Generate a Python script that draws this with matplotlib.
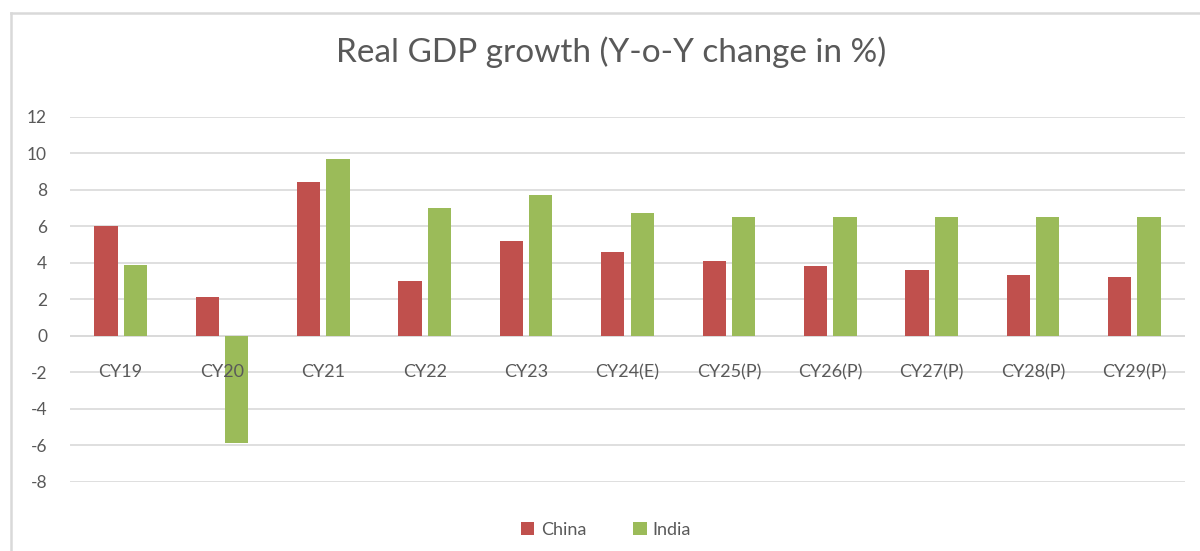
import matplotlib
matplotlib.use("Agg")
import matplotlib.pyplot as plt
import numpy as np
from matplotlib.lines import Line2D

plt.rcParams["font.family"] = ["Lato", "DejaVu Sans"]

# values
categories = ["CY19", "CY20", "CY21", "CY22", "CY23", "CY24(E)", "CY25(P)",
              "CY26(P)", "CY27(P)", "CY28(P)", "CY29(P)"]
china = [6.0, 2.1, 8.4, 3.0, 5.2, 4.6, 4.1, 3.8, 3.6, 3.3, 3.2]
india = [3.9, -5.9, 9.7, 7.0, 7.7, 6.7, 6.5, 6.5, 6.5, 6.5, 6.5]
yticks = list(range(-8, 13, 2))

RED = "#C0504D"
GREEN = "#9BBB59"
TEXT = "#595959"
GRID = "#D9D9D9"

fig = plt.figure(figsize=(12, 5.51), dpi=100)
# light chart-area border (top and left edges only visible in the crop)
top = 1 - 13 / 551
left = 11 / 1200
fig.add_artist(Line2D([left, 1.0], [top, top], transform=fig.transFigure,
                      color="#D9D9D9", linewidth=1.8))
fig.add_artist(Line2D([left, left], [0, top], transform=fig.transFigure,
                      color="#D9D9D9", linewidth=1.8))

ax = fig.add_axes((70 / 1200, 1 - 481.7 / 551, 1115 / 1200, 365 / 551))
x = np.arange(len(categories))
w = 0.23
ax.bar(x - 0.145, china, w, color=RED, label="China", zorder=3)
ax.bar(x + 0.145, india, w, color=GREEN, label="India", zorder=3)

ax.set_xlim(-0.5, len(categories) - 0.5)
ax.set_ylim(-8, 12)
ax.set_yticks(yticks)
ax.set_yticklabels([str(t) for t in yticks], fontsize=12.5, color=TEXT)
ax.tick_params(axis="y", length=0, pad=16.5)
ax.yaxis.grid(True, color=GRID, linewidth=1.2, zorder=0)
ax.axhline(0, color=GRID, linewidth=1.2, zorder=1)
for s in ax.spines.values():
    s.set_visible(False)

ax.set_xticks([])
for xi, lab in zip(x, categories):
    ax.text(xi, -2, lab, ha="center", va="center", fontsize=13,
            color=TEXT, zorder=4)

fig.text(0.509, 0.905, "Real GDP growth (Y-o-Y change in %)", ha="center",
         va="center", fontsize=24, color=TEXT)

leg = fig.legend(loc="center", bbox_to_anchor=(0.505, 0.038), ncol=2,
                 frameon=False, fontsize=13, handlelength=0.75,
                 handleheight=0.75, columnspacing=2.6, handletextpad=0.35)
for t in leg.get_texts():
    t.set_color(TEXT)

fig.savefig("out.png", dpi=100, facecolor="white")
